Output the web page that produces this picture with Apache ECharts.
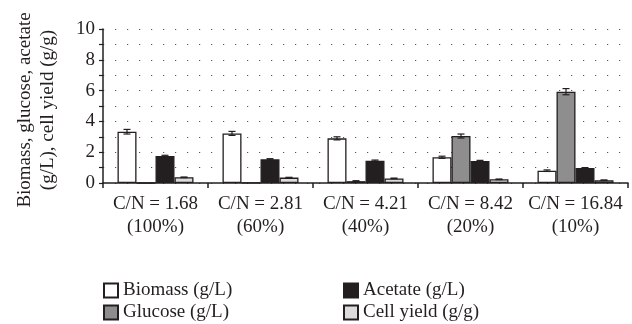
<!DOCTYPE html>
<html><head><meta charset="utf-8">
<script src="https://cdn.jsdelivr.net/npm/echarts@6/dist/echarts.min.js"></script>
<style>html,body{margin:0;padding:0;background:#fff}#c{width:632px;height:324px}</style>
</head><body><div id="c"></div>
<script>
const categories = ['C/N = 1.68\n(100%)','C/N = 2.81\n(60%)','C/N = 4.21\n(40%)','C/N = 8.42\n(20%)','C/N = 16.84\n(10%)'];
const biomass = [3.33, 3.22, 2.9, 1.67, 0.8];
const biomassErr = [0.15, 0.13, 0.1, 0.07, 0.05];
const glucose = [0.0, 0.02, 0.12, 3.05, 5.93];
const glucoseErr = [0.0, 0.0, 0.03, 0.13, 0.2];
const acetate = [1.75, 1.54, 1.45, 1.43, 0.97];
const acetateErr = [0.05, 0.04, 0.04, 0.04, 0.03];
const cellYield = [0.37, 0.35, 0.3, 0.24, 0.18];
const cellYieldErr = [0.02, 0.02, 0.02, 0.02, 0.02];
const yTicks = [0, 2, 4, 6, 8, 10];

const FONT = 'Liberation Serif';
const FS = 19;
const BW = 19;
const names = ['Biomass (g/L)','Glucose (g/L)','Acetate (g/L)','Cell yield (g/g)'];
const vals = [biomass, glucose, acetate, cellYield];
const errs = [biomassErr, glucoseErr, acetateErr, cellYieldErr];
const fills = ['#ffffff','#8e8e8e','#231f20','#dcdcdc'];

const series = [];
vals.forEach((v,i)=>{
  series.push({name:names[i], type:'bar', data:v, barWidth:BW, barGap:'0%',
    itemStyle:{color:fills[i], borderColor:'#231f20', borderWidth:1.3, borderRadius:0}});
});
vals.forEach((v,i)=>{
  series.push({type:'custom', z:10, silent:true,
    data:v.map((y,k)=>[k,y,errs[i][k]]),
    encode:{x:0,y:1},
    renderItem:function(params, api){
      const e = api.value(2);
      if(!e) return null;
      const off = (i-1.5)*BW;
      const top = api.coord([api.value(0), api.value(1)+e]);
      const bot = api.coord([api.value(0), api.value(1)-e]);
      const x = top[0]+off;
      const st = {stroke:'#231f20', lineWidth:1.2};
      return {type:'group', children:[
        {type:'line', shape:{x1:x,y1:top[1],x2:x,y2:bot[1]}, style:st},
        {type:'line', shape:{x1:x-3.5,y1:top[1],x2:x+3.5,y2:top[1]}, style:st},
        {type:'line', shape:{x1:x-3.5,y1:bot[1],x2:x+3.5,y2:bot[1]}, style:st}
      ]};
    }
  });
});

const legendPos = [[98,276],[98,298],[338,276],[338,298]];
const legends = names.map((n,i)=>({data:[n], left:legendPos[i][0], top:legendPos[i][1],
  itemWidth:14, itemHeight:14, icon:'rect', itemGap:6,
  textStyle:{fontFamily:FONT, fontSize:FS, color:'#231f20'}}));

const chart = echarts.init(document.getElementById('c'));
chart.setOption({
  animation:false,
  textStyle:{fontFamily:FONT},
  grid:{left:103, right:4, top:29, bottom:141, containLabel:false, outerBoundsMode:'none'},
  legend:legends,
  xAxis:{type:'category', data:categories,
    axisLine:{lineStyle:{color:'#231f20', width:1.5}},
    axisTick:{show:true, length:5, lineStyle:{color:'#231f20', width:1.5}},
    axisLabel:{interval:0, fontFamily:FONT, fontSize:FS, color:'#231f20', lineHeight:23, margin:10, hideOverlap:false}
  },
  yAxis:{type:'value', min:0, max:10, interval:1,
    name:'Biomass, glucose, acetate\n(g/L), cell yield (g/g)', nameLocation:'middle', nameGap:43,
    nameTextStyle:{fontFamily:FONT, fontSize:FS, color:'#231f20', lineHeight:23, padding:[0,8,0,0]},
    axisLine:{show:true, lineStyle:{color:'#231f20', width:1.5}},
    axisTick:{show:true, length:4, lineStyle:{color:'#231f20', width:1.2}},
    axisLabel:{fontFamily:FONT, fontSize:FS, color:'#231f20', margin:8,
      formatter:v=> yTicks.indexOf(v)>=0 ? String(v) : ''},
    splitLine:{show:true, lineStyle:{color:'#555', width:1.2, type:[1.2,10.8]}}
  },
  series:series
});
</script></body></html>
